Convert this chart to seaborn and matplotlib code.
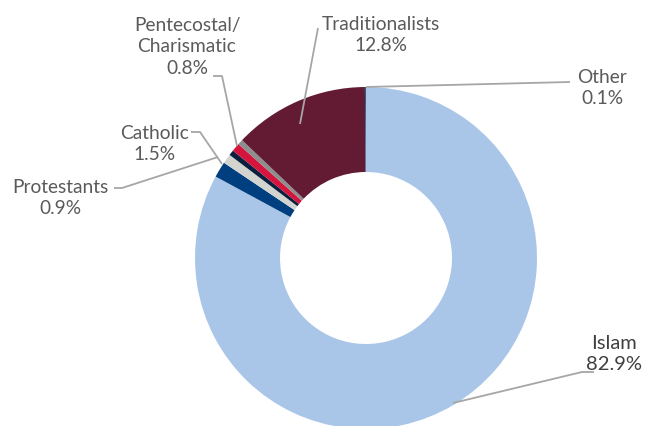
import matplotlib
matplotlib.use("Agg")
import matplotlib.pyplot as plt
import seaborn as sns

# Slices clockwise from 12 o'clock (shares in %)
groups = ["Islam", "Catholic", "Protestants", "Unlabelled A", "Pentecostal/Charismatic",
          "Unlabelled B", "Traditionalists", "Other"]
shares = [82.9, 1.5, 0.9, 0.5, 0.8, 0.5, 12.8, 0.1]
colors = ["#A9C6E8", "#003F7F", "#D3D3CF", "#0B1F3F", "#D5153D",
          "#8E8E8E", "#631A33", "#2F5A8A"]

# Label texts as printed on the chart
label_texts = ["Islam\n82.9%", "Protestants\n0.9%", "Catholic\n1.5%",
               "Pentecostal/\nCharismatic\n0.8%", "Traditionalists\n12.8%", "Other\n0.1%"]

sns.set_theme(style="white")
plt.rcParams["font.family"] = ["Lato", "DejaVu Sans"]

W, H = 652, 426
fig = plt.figure(figsize=(W / 100, H / 100), dpi=100)
ax = fig.add_axes([0, 0, 1, 1])

# donut (pixel coordinates, y measured from the bottom)
cx, cy, r_out, r_in = 366, H - 258, 171, 86
ax.pie(shares, colors=colors, startangle=90, counterclock=False,
       center=(cx, cy), radius=r_out,
       wedgeprops=dict(width=r_out - r_in, linewidth=0))

ax.set_xlim(0, W)
ax.set_ylim(0, H)
ax.set_aspect("equal")
ax.axis("off")

line_kw = dict(color="#A6A6A6", lw=1.3, solid_capstyle="butt")
txt_kw = dict(color="#5A5A5A", fontsize=13.8, ha="center", va="center", linespacing=1.3)

# label placement: (x, y of text centre, leader points) in pixel space
label_layout = [
    (614, 354, [(594, 372), (582, 372), (453, 403)]),
    (60, 198, [(114, 188), (122, 188), (218, 157)]),
    (155, 144, [(191, 132), (200, 132), (222, 164)]),
    (187, 47, [(213, 76), (222, 76), (237, 146)]),
    (381, 35, [(318, 28), (300, 124)]),
    (602, 88, [(570, 82), (366, 87)]),
]

for text, (tx, ty, pts) in zip(label_texts, label_layout):
    xs = [p[0] for p in pts]
    ys = [H - p[1] for p in pts]
    ax.plot(xs, ys, **line_kw)
    if text.startswith("Islam"):
        ax.text(tx, H - ty, text, color="#404040", fontsize=14.5,
                ha="center", va="center", linespacing=1.25)
    else:
        ax.text(tx, H - ty, text, **txt_kw)

fig.savefig("out.png", dpi=100)
